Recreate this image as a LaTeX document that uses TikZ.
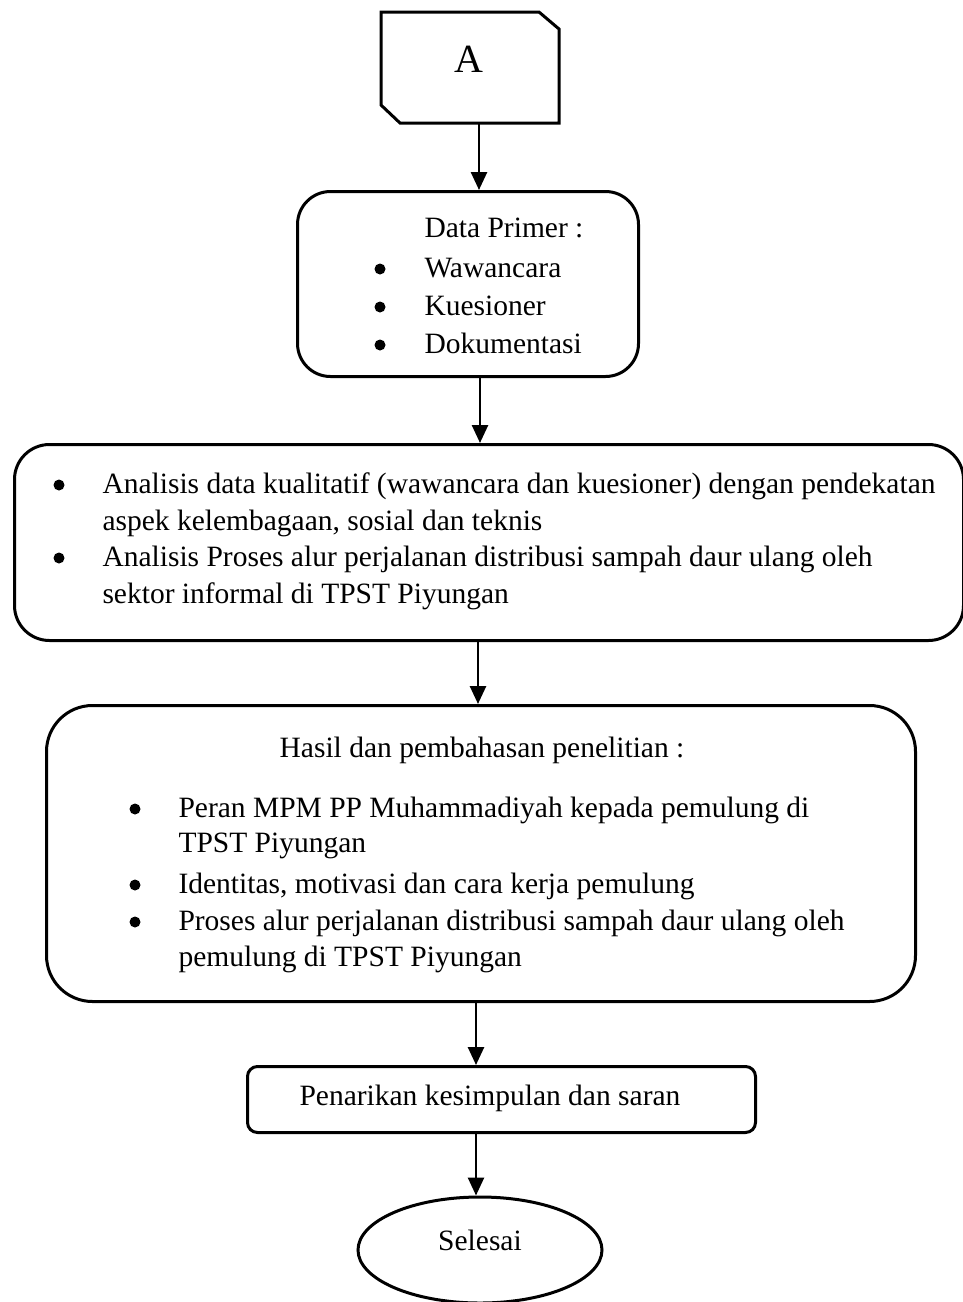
\documentclass[tikz,border=0pt]{standalone}
\usepackage{fontspec}
\setmainfont{Liberation Serif}
\usetikzlibrary{arrows.meta,shapes.geometric}
\begin{document}
\begin{tikzpicture}[x=1pt,y=-1pt,line width=3pt,
  txt/.style={font=\fontsize{29.5}{37}\selectfont,inner sep=0pt,anchor=base west},
  ctxt/.style={font=\fontsize{29.5}{37}\selectfont,inner sep=0pt,anchor=base},
  bul/.style={circle,fill,draw=none,inner sep=0pt,minimum size=11pt},
  box/.style={draw,rounded corners=#1,inner sep=0pt,anchor=north west},
  flow/.style={-{Triangle[width=16pt,length=18pt]},line width=2.6pt}]
\useasboundingbox (0,0) rectangle (963,1302);
% connector A
\draw (381,12) -- (539,12) -- (559,29) -- (559,123) -- (400,123) -- (381,105) -- cycle;
\node[font=\fontsize{40}{40}\selectfont,inner sep=0pt,anchor=base] (A) at (469,72) {A};
\coordinate (Abot) at (479,123);
% boxes
\node[box=33,minimum width=341pt,minimum height=185pt] (b2) at (296,190) {};
\node[box=35,minimum width=949pt,minimum height=196pt] (b3) at (13,443) {};
\node[box=46,minimum width=869pt,minimum height=296pt] (b4) at (45,704) {};
\node[box=10,minimum width=508pt,minimum height=66pt] (b5) at (246,1065) {};
\node[draw,ellipse,inner sep=0pt,minimum width=244pt,minimum height=106pt] (e) at (480,1250) {};
% x guides
\coordinate (x480) at (480,0);
\coordinate (x478) at (478,0);
\coordinate (x476) at (476,0);
% arrows
\draw[flow] (Abot) -- (Abot |- b2.north);
\draw[flow] (b2.south -| x480) -- (b3.north -| x480);
\draw[flow] (b3.south -| x478) -- (b4.north -| x478);
\draw[flow] (b4.south -| x476) -- (b5.north -| x476);
\draw[flow] (b5.south -| x476) -- (e.north -| x476);
% box 2 text
\node[txt] (t21) at (423,237) {Data Primer :};
\node[bul] (u22) at (380,269) {};
\node[txt] (t22) at (423,277) {Wawancara};
\node[bul] (u23) at (380,307) {};
\node[txt] (t23) at (423,315) {Kuesioner};
\node[bul] (u24) at (380,345) {};
\node[txt] (t24) at (423,353) {Dokumentasi};
% box 3 text
\node[bul] (u31) at (59,485) {};
\node[txt] (t31) at (101,493) {Analisis data kualitatif (wawancara dan kuesioner) dengan pendekatan};
\node[txt] (t32) at (101,530) {aspek kelembagaan, sosial dan teknis};
\node[bul] (u33) at (59,558) {};
\node[txt] (t33) at (101,566) {Analisis Proses alur perjalanan distribusi sampah daur ulang oleh};
\node[txt] (t34) at (101,603) {sektor informal di TPST Piyungan};
% box 4 text
\node[ctxt] (t40) at (482,757) {Hasil dan pembahasan penelitian :};
\node[bul] (u41) at (135,809) {};
\node[txt] (t41) at (177,817) {Peran MPM PP Muhammadiyah kepada pemulung di};
\node[txt] (t42) at (177,852) {TPST Piyungan};
\node[bul] (u43) at (135,885) {};
\node[txt] (t43) at (177,893) {Identitas, motivasi dan cara kerja pemulung};
\node[bul] (u44) at (135,922) {};
\node[txt] (t44) at (177,930) {Proses alur perjalanan distribusi sampah daur ulang oleh};
\node[txt] (t45) at (177,966) {pemulung di TPST Piyungan};
% box 5 text
\node[txt] (t5) at (298,1105) {Penarikan kesimpulan dan saran};
\node[ctxt] (t6) at (480,1250) {Selesai};
\end{tikzpicture}
\end{document}
